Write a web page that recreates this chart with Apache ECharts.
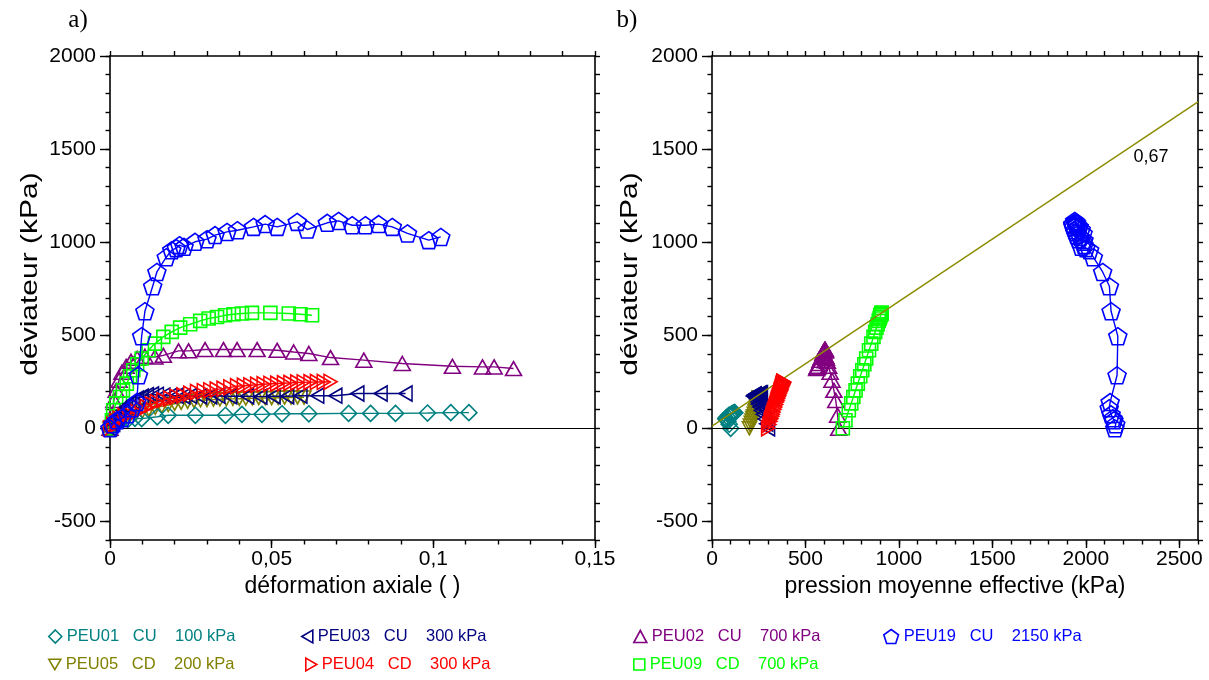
<!DOCTYPE html>
<html><head><meta charset="utf-8">
<script src="https://cdn.jsdelivr.net/npm/echarts@6/dist/echarts.min.js"></script>
<style>html,body{margin:0;padding:0;background:#fff}#c{width:1209px;height:680px}</style>
</head><body><div id="c"></div>
<script>
// ---------- DATA ----------
const names = ['PEU01   CU    100 kPa','PEU05   CD    200 kPa','PEU03   CU    300 kPa','PEU04   CD    300 kPa','PEU02   CU    700 kPa','PEU09   CD    700 kPa','PEU19   CU    2150 kPa'];
// PEU01 CU 100 kPa
const peu01Strain = [0,0.0009,0.0022,0.0037,0.0056,0.0077,0.0098,0.0146,0.018,0.0264,0.0357,0.0408,0.047,0.0532,0.0615,0.0738,0.0806,0.0883,0.0982,0.1054,0.111];
const peu01Q = [0,22,38,43,48,54,52,62,70,70,70,75,75,78,78,80,80,80,82,84,84];
const peu01P = [100,92,85,80,77,75,74,82,90,95,98,102,105,108,110,112,113,115,118,120,122];
// PEU05 CD 200 kPa
const peu05Strain = [0,0.001,0.002,0.003,0.0045,0.006,0.008,0.01,0.012,0.014,0.016,0.018,0.02,0.022,0.024,0.026,0.028,0.03,0.032,0.034,0.036,0.038,0.04,0.042,0.044,0.046,0.048,0.05,0.052,0.054,0.056,0.058,0.06];
const peu05Q = [0,15,30,42,55,65,78,90,100,110,118,125,132,137,142,146,150,152,154,156,157,158,159,160,161,162,163,163,164,165,165,166,166];
const peu05P = [200,205,210,214,218,222,226,230,233,237,239,242,244,246,247,249,250,251,251,252,252,253,253,253,254,254,254,254,255,255,255,255,255];
// PEU03 CU 300 kPa
const peu03Strain = [0,0.001,0.002,0.003,0.004,0.005,0.006,0.007,0.0083,0.0098,0.0114,0.013,0.0145,0.0165,0.0186,0.0206,0.0227,0.0248,0.0279,0.031,0.0335,0.0372,0.0424,0.0465,0.0506,0.0548,0.0589,0.0641,0.0697,0.0765,0.0837,0.0914];
const peu03Q = [0,25,50,75,95,115,130,145,160,170,178,182,180,176,174,175,172,174,172,172,175,172,172,170,172,172,175,175,175,187,187,187];
const peu03P = [300,290,282,272,262,254,246,240,235,230,228,228,226,224,222,222,222,222,223,224,226,228,230,232,235,238,242,246,250,255,258,262];
// PEU04 CD 300 kPa
const peu04Strain = [0,0.001,0.002,0.003,0.0045,0.006,0.0083,0.0098,0.0114,0.013,0.0145,0.0165,0.0186,0.0206,0.0227,0.0248,0.0269,0.029,0.031,0.033,0.0351,0.0372,0.0393,0.0414,0.0434,0.0455,0.0475,0.0496,0.0517,0.0538,0.0558,0.0579,0.0599,0.062,0.064,0.0661,0.0682];
const peu04Q = [0,20,38,52,65,75,88,102,115,128,141,151,160,169,177,186,195,200,204,209,213,220,226,229,231,234,237,239,240,242,244,246,247,248,249,249,250];
const peu04P = [300,307,313,317,322,325,329,334,338,343,347,350,353,356,359,362,365,367,368,370,371,373,375,376,377,378,379,380,380,381,381,382,382,383,383,383,383];
// PEU02 CU 700 kPa
const peu02Strain = [0,0.0006,0.0012,0.0019,0.0028,0.0037,0.005,0.0065,0.0084,0.0108,0.0139,0.0165,0.0212,0.0243,0.0294,0.0351,0.0393,0.0455,0.0517,0.0568,0.0615,0.0682,0.0785,0.0904,0.1059,0.1152,0.1188,0.1248];
const peu02Q = [0,70,150,204,258,301,333,360,376,387,383,392,416,416,423,423,423,423,419,410,402,380,366,348,333,330,330,321];
const peu02P = [678,672,662,652,642,632,624,617,612,608,606,604,607,605,606,605,604,603,601,597,593,585,578,572,566,564,563,560];
// PEU09 CD 700 kPa
const peu09Strain = [0,0.0006,0.001,0.0019,0.0031,0.004,0.0052,0.0062,0.0072,0.0084,0.0098,0.0119,0.0139,0.0165,0.0191,0.0217,0.0248,0.0279,0.0305,0.0331,0.0356,0.0382,0.0408,0.0439,0.0496,0.0553,0.0589,0.0625];
const peu09Q = [0,43,97,134,168,204,240,280,312,344,375,419,455,491,518,541,559,577,590,598,607,613,617,620,620,617,613,607];
const peu09P = [700,714,732,745,756,768,780,793,804,815,825,840,852,864,873,880,886,892,897,899,902,904,906,907,907,906,904,902];
// PEU19 CU 2150 kPa
const peu19Strain = [0,0.0009,0.0022,0.0037,0.0053,0.0068,0.0083,0.0088,0.0098,0.0108,0.0132,0.0145,0.0174,0.0191,0.0205,0.0215,0.0229,0.0263,0.030,0.0325,0.0362,0.0394,0.0444,0.048,0.0517,0.0579,0.061,0.0672,0.0707,0.0749,0.079,0.0831,0.0873,0.092,0.0986,0.1023];
const peu19Q = [0,22,43,54,75,108,141,285,495,629,763,840,919,957,968,984,975,1002,1016,1038,1055,1064,1082,1097,1082,1109,1068,1104,1114,1091,1091,1097,1082,1047,1011,1028];
const peu19P = [2155,2160,2150,2145,2135,2125,2130,2167,2171,2135,2126,2090,2040,2020,2000,1990,1975,1985,1960,1950,1945,1940,1935,1930,1960,1945,1975,1950,1940,1955,1930,1950,1965,1985,1990,1970];
// failure line (slope 0,67)
const failP = [0, 2600];
const failQ = [12, 1754];
// ticks
const strainTicks = [0, 0.05, 0.1, 0.15];
const pTicks = [0, 500, 1000, 1500, 2000, 2500];
const qTicks = [-500, 0, 500, 1000, 1500, 2000];

// ---------- STYLE ----------
const FONT = '"Liberation Sans", Arial, sans-serif';
const colors = ['#008080','#808000','#000080','#ff0000','#800080','#00ff00','#0000ff'];
const PENT = 'path://M50,0 L97.6,34.5 L79.4,90.5 L20.6,90.5 L2.4,34.5 Z';
const TRI_L = 'path://M0,50 L87,0 L87,100 Z';
const TRI_R = 'path://M87,50 L0,0 L0,100 Z';
const TRI_D = 'path://M0,0 L100,0 L50,87 Z';
const symbols = ['diamond', TRI_D, TRI_L, TRI_R, 'triangle', 'rect', PENT];
const symSizes = [[16,16],[14,13],[13,15],[13,15],[16,14],[13,13],[18,17]];
const legendIcons = [[13,13],[12,11],[11,13],[11,13],[13,12],[11,11],[15,14]];

const tests = [
  [peu01Strain, peu01Q, peu01P],
  [peu05Strain, peu05Q, peu05P],
  [peu03Strain, peu03Q, peu03P],
  [peu04Strain, peu04Q, peu04P],
  [peu02Strain, peu02Q, peu02P],
  [peu09Strain, peu09Q, peu09P],
  [peu19Strain, peu19Q, peu19P]
];
const zip = (a, b) => a.map((v, i) => [v, b[i]]);
const comma = v => String(v).replace('.', ',');

function axisSet(dim, gi, min, max, major, minorInt, name, pos, opp) {
  const base = {type:'value', gridIndex:gi, min, max, splitLine:{show:false}};
  const line = {show:true, onZero:false, lineStyle:{color:'#000', width:1.6}};
  const tick = (len) => ({show:true, inside:false, length:len, lineStyle:{color:'#000', width:1.4}});
  const main = Object.assign({}, base, {
    position: pos,
    axisLine: line,
    axisTick: Object.assign(tick(dim === 'x' ? 8 : 10), {customValues: major}),
    axisLabel: {customValues: major, formatter: comma, margin: dim === 'x' ? 9 : 14,
      fontSize: 21, color:'#000', fontFamily: FONT},
    name: name, nameLocation:'middle', nameGap: 33,
    nameTextStyle: {fontSize: 23, color:'#000', fontFamily: FONT}
  });
  if (dim === 'y') { main.name = ''; }
  const minor = Object.assign({}, base, {
    position: pos, interval: minorInt,
    axisLine: {show:false, onZero:false}, axisTick: tick(4.5), axisLabel:{show:false}
  });
  const other = Object.assign({}, base, {
    position: opp, interval: minorInt,
    axisLine: line, axisTick: tick(5), axisLabel:{show:false}
  });
  return [main, minor, other];
}

const xAxis = [].concat(
  axisSet('x', 0, 0, 0.15, strainTicks, 0.01, 'déformation axiale ( )', 'bottom', 'top'),
  axisSet('x', 1, 0, 2600, pTicks, 100, 'pression moyenne effective (kPa)', 'bottom', 'top')
);
const yAxis = [].concat(
  axisSet('y', 0, -600, 2000, qTicks, 100, '', 'left', 'right'),
  axisSet('y', 1, -600, 2000, qTicks, 100, '', 'left', 'right')
);

const zeroLine = {silent:true, symbol:'none', label:{show:false},
  lineStyle:{color:'#000', width:1, type:'solid'}, data:[{yAxis:0}], animation:false};

const series = [];
const order = [1, 0, 4, 5, 2, 3, 6];
order.forEach((k, idx) => {
  const t = tests[k];
  const common = {
    type:'line', name: names[k], symbol: symbols[k], symbolSize: symSizes[k],
    symbolKeepAspect: false, showSymbol: true, animation: false, z: 3 + idx,
    lineStyle: {color: colors[k], width: 1.4},
    itemStyle: {color: 'rgba(0,0,0,0)', borderColor: colors[k], borderWidth: 1.6},
    emphasis: {disabled: true}
  };
  const left = Object.assign({}, common, {xAxisIndex:0, yAxisIndex:0, data: zip(t[0], t[1])});
  const right = Object.assign({}, common, {xAxisIndex:3, yAxisIndex:3, data: zip(t[2], t[1])});
  if (idx === 0) { left.markLine = zeroLine; right.markLine = zeroLine; }
  series.push(left, right);
});
series.push({type:'line', name:'rupture', xAxisIndex:3, yAxisIndex:3, data: zip(failP, failQ),
  symbol:'none', animation:false, z: 8, lineStyle:{color:'#8b8b00', width:1.4}, emphasis:{disabled:true}});

const legendPos = [[48,628],[48,656],[301,628],[305,656],[633,628],[633,656],[883,628]];
const legend = names.map((n, k) => ({
  left: legendPos[k][0], top: legendPos[k][1], padding: 0, selectedMode: false,
  itemWidth: legendIcons[k][0], itemHeight: legendIcons[k][1], itemGap: 0,
  textStyle: {fontSize: 16.5, fontFamily: FONT, color: colors[k]},
  data: [{name: n, icon: symbols[k],
    itemStyle: {color:'rgba(0,0,0,0)', borderColor: colors[k], borderWidth: 1.6},
    lineStyle: {width: 0},
    textStyle: {color: colors[k]}}]
}));

const chart = echarts.init(document.getElementById('c'), null, {renderer:'canvas'});
chart.setOption({
  backgroundColor: '#fff',
  animation: false,
  grid: [
    {left:110, top:56, width:485, height:484, containLabel:false},
    {left:712, top:56, width:486, height:484, containLabel:false}
  ],
  xAxis, yAxis, series, legend,
  graphic: [
    {type:'text', x:78, y:20, style:{text:'a)', fontSize:25, fontFamily:'"Liberation Serif", serif', fill:'#000', align:'center', verticalAlign:'middle'}},
    {type:'text', x:627, y:20, style:{text:'b)', fontSize:25, fontFamily:'"Liberation Serif", serif', fill:'#000', align:'center', verticalAlign:'middle'}},
    {type:'text', x:30, y:274, rotation: Math.PI/2, scaleX: 1.25, style:{text:'déviateur (kPa)', fontSize:24, fontFamily:FONT, fill:'#000', align:'center', verticalAlign:'middle'}},
    {type:'text', x:630, y:274, rotation: Math.PI/2, scaleX: 1.25, style:{text:'déviateur (kPa)', fontSize:24, fontFamily:FONT, fill:'#000', align:'center', verticalAlign:'middle'}},
    {type:'text', x:1151, y:157, style:{text:'0,67', fontSize:18, fontFamily:FONT, fill:'#000', align:'center', verticalAlign:'middle'}}
  ]
});
</script></body></html>
